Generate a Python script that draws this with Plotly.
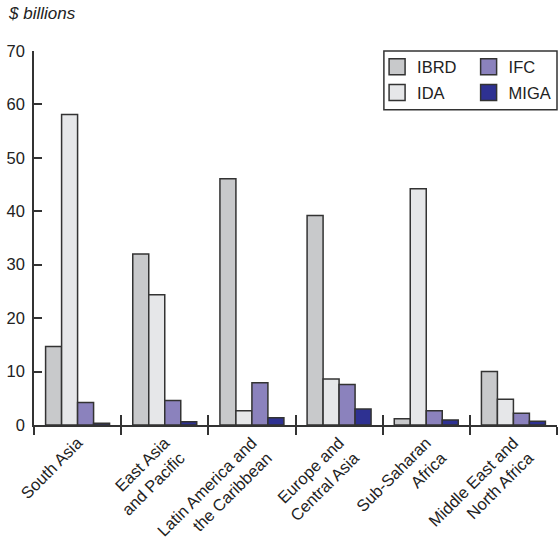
import plotly.graph_objects as go

regions = ["South Asia", "East Asia<br>and Pacific", "Latin America and<br>the Caribbean",
           "Europe and<br>Central Asia", "Sub-Saharan<br>Africa", "Middle East and<br>North Africa"]
ibrd = [14.7, 32.0, 46.1, 39.2, 1.15, 10.0]
ida = [58.1, 24.4, 2.65, 8.6, 44.2, 4.8]
ifc = [4.2, 4.6, 7.9, 7.6, 2.65, 2.2]
miga = [0.35, 0.6, 1.35, 3.0, 0.95, 0.7]

series = [("IBRD", ibrd, "#c8c9cb"), ("IDA", ida, "#e6e7e9"),
          ("IFC", ifc, "#8b82bd"), ("MIGA", miga, "#2e3192")]
legend_ids = {"IBRD": "legend", "IDA": "legend2", "IFC": "legend3", "MIGA": "legend4"}

FONT = "Liberation Sans, Arial, sans-serif"
INK = "#333333"

fig = go.Figure()
for name, vals, col in series:
    fig.add_trace(go.Bar(x=regions, y=vals, name=name, showlegend=False,
                         marker=dict(color=col, line=dict(color=INK, width=1.5))))
for name, vals, col in series:
    fig.add_trace(go.Scatter(x=[None], y=[None], mode="markers", name=name,
                             legend=legend_ids[name], showlegend=True,
                             marker=dict(symbol="square", size=16, color=col,
                                         line=dict(color=INK, width=1.5))))

leg_common = dict(bgcolor="rgba(0,0,0,0)", borderwidth=0, xanchor="left", yanchor="middle",
                  font=dict(family=FONT, size=16.5, color="#222"))
fig.update_layout(
    width=558, height=546,
    margin=dict(l=34, r=1, t=51, b=121, autoexpand=False),
    paper_bgcolor="white", plot_bgcolor="white",
    barmode="group", bargap=0.266, bargroupgap=0,
    font=dict(family=FONT, size=16.5, color="#222"),
    legend=dict(x=0.656, y=0.957, **leg_common),
    legend2=dict(x=0.656, y=0.888, **leg_common),
    legend3=dict(x=0.831, y=0.957, **leg_common),
    legend4=dict(x=0.831, y=0.888, **leg_common),
    xaxis=dict(type="category", categoryarray=regions, range=[-0.5, 5.5], automargin=False,
               showline=True, linecolor=INK, linewidth=1.5,
               ticks="outside", tickson="boundaries", ticklen=8, tickwidth=1.5, tickcolor=INK,
               tickangle=-45, showgrid=False, zeroline=False,
               tickfont=dict(family=FONT, size=16.5, color="#222")),
    xaxis2=dict(overlaying="x", anchor="y", side="bottom", type="linear", automargin=False,
                range=[-0.5, 5.5], tick0=-0.5, dtick=1, ticks="inside", ticklen=10,
                tickwidth=1.5, tickcolor=INK, showticklabels=False, showgrid=False,
                zeroline=False, showline=False),
    yaxis=dict(range=[0, 70], dtick=10, showline=True, linecolor=INK, linewidth=1.5,
               ticks="inside", ticklen=8, tickwidth=1.5, tickcolor=INK, automargin=False,
               ticklabelstandoff=4, showgrid=False, zeroline=False,
               tickfont=dict(family=FONT, size=16.5, color="#222")),
    shapes=[dict(type="rect", xref="paper", yref="paper", x0=0.669, x1=1.0, y0=0.843, y1=1.0,
                 line=dict(color=INK, width=1.5), fillcolor="rgba(0,0,0,0)", layer="above")],
    annotations=[dict(text="<i>$ billions</i>", xref="paper", yref="paper", x=-0.053, y=1.099,
                      xanchor="left", yanchor="middle", showarrow=False,
                      font=dict(family=FONT, size=17, color="#222"))],
)
fig.add_trace(go.Scatter(x=[None], y=[None], xaxis="x2", yaxis="y", showlegend=False,
                         hoverinfo="skip"))

fig.write_html("out.html", config={"displayModeBar": False},
               post_script="document.body.style.margin='0';document.body.style.overflow='hidden';")
